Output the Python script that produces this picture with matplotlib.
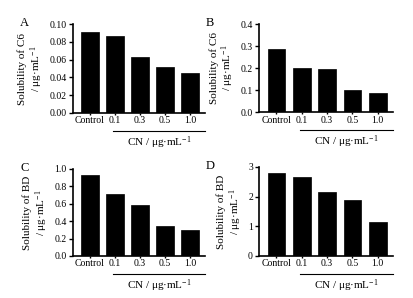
import matplotlib
matplotlib.use('Agg')
import matplotlib.pyplot as plt
import matplotlib.transforms as mtransforms

plt.rcParams['font.family'] = 'Liberation Serif'
plt.rcParams['mathtext.fontset'] = 'custom'
plt.rcParams['mathtext.rm'] = 'Liberation Serif'
plt.rcParams['mathtext.it'] = 'Liberation Serif'

categories = ['Control', '0.1', '0.3', '0.5', '1.0']
c6_a = [0.091, 0.087, 0.063, 0.052, 0.045]
c6_b = [0.289, 0.201, 0.197, 0.102, 0.088]
bd_c = [0.93, 0.71, 0.59, 0.34, 0.30]
bd_d = [2.81, 2.66, 2.16, 1.89, 1.15]

panels = [
    ('A', c6_a, 'Solubility of C6', (0, 0.10), [0, 0.02, 0.04, 0.06, 0.08, 0.10], '{:.2f}',
     [0.176, 0.621, 0.319, 0.298]),
    ('B', c6_b, 'Solubility of C6', (0, 0.4), [0, 0.1, 0.2, 0.3, 0.4], '{:.1f}',
     [0.626, 0.624, 0.323, 0.295]),
    ('C', bd_c, 'Solubility of BD', (0, 1.0), [0, 0.2, 0.4, 0.6, 0.8, 1.0], '{:.1f}',
     [0.176, 0.141, 0.319, 0.292]),
    ('D', bd_d, 'Solubility of BD', (0, 3), [0, 1, 2, 3], '{:.0f}',
     [0.626, 0.141, 0.323, 0.299]),
]

unit = '/ μg·mL$^{\\mathrm{-1}}$'

fig = plt.figure(figsize=(4.14, 2.98), dpi=100)

for letter, vals, ylab, ylim, yticks, fmt, rect in panels:
    ax = fig.add_axes(rect)
    x = list(range(len(categories)))
    ax.bar(x, vals, width=0.7, color='black', edgecolor='black', linewidth=0.5)
    ax.set_xlim(-0.68, 4.6)
    ax.set_ylim(*ylim)
    ax.set_yticks(yticks)
    ax.set_yticklabels([fmt.format(t) for t in yticks])
    ax.set_xticks(x)
    ax.set_xticklabels(categories)
    ax.spines['top'].set_visible(False)
    ax.spines['right'].set_visible(False)
    for s in ('left', 'bottom'):
        ax.spines[s].set_linewidth(1.2)
    ax.tick_params(axis='y', direction='out', length=3, width=1, labelsize=7, pad=1.5)
    ax.tick_params(axis='x', direction='out', length=1.5, width=1, labelsize=7, pad=1)
    ax.set_ylabel(ylab + '\n' + unit, fontsize=8, linespacing=1.1, labelpad=3)

    # height of 18 px / 30 px below the axis, in axes fraction
    h = rect[3] * 298
    trans = mtransforms.blended_transform_factory(ax.transData, ax.transAxes)
    ax.plot([0.92, 4.6], [-18 / h, -18 / h], color='black', lw=0.8,
            transform=trans, clip_on=False)
    ax.text((0.92 + 4.6) / 2, -30 / h, 'CN ' + unit, transform=trans,
            ha='center', va='center', fontsize=8)
    ax.text(-0.40, 1.08, letter, transform=ax.transAxes, ha='left', va='top', fontsize=9)

fig.savefig('out.png', dpi=100)
